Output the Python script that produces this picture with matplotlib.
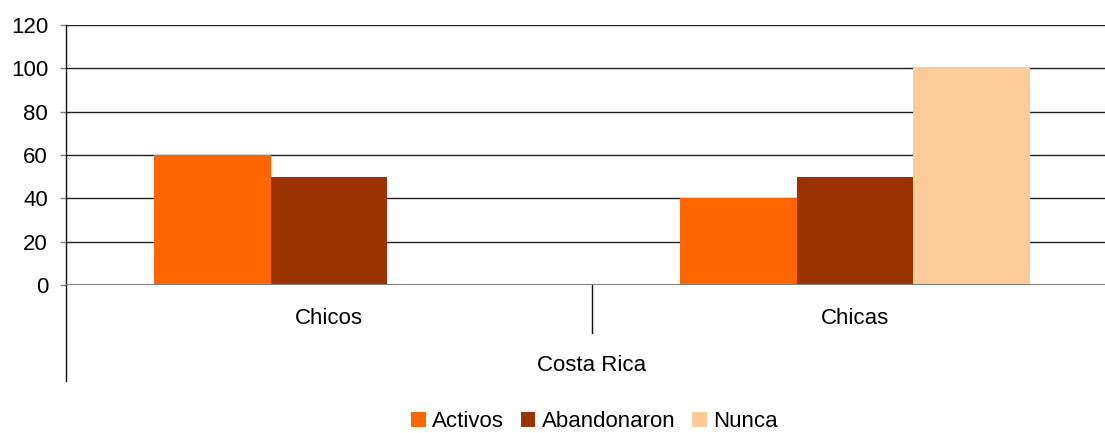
import numpy as np
import matplotlib.pyplot as plt
from matplotlib.patches import Patch

plt.rcParams['font.family'] = ['Liberation Sans', 'DejaVu Sans']

categories = ['Chicos', 'Chicas']
group_label = 'Costa Rica'
series_names = ['Activos', 'Abandonaron', 'Nunca']
activos = [60, 40]
abandonaron = [50, 50]
nunca = [0, 100]
colors = ['#FF6600', '#993300', '#FFCC99']

fig = plt.figure(figsize=(11.05, 4.33), dpi=100)
ax = fig.add_axes([66 / 1105, 1 - 285 / 433, (1118 - 66) / 1105, 260 / 433])

x = np.arange(len(categories))
w = 1 / 4.5
for i, (vals, c) in enumerate(zip([activos, abandonaron, nunca], colors)):
    ax.bar(x + (i - 1) * w, vals, width=w, color=c, zorder=3, linewidth=0)

ax.set_xlim(-0.5, 1.5)
ax.set_ylim(0, 120)
ax.set_yticks(range(0, 121, 20))
ax.yaxis.grid(True, color='#222222', linewidth=1.0, zorder=1)
ax.axhline(0, color='#808080', linewidth=1.5, zorder=4)
ax.tick_params(axis='y', labelsize=16, length=4.3, width=1, color='#808080', pad=8.6)
ax.set_xticks([])
for s in ['top', 'right', 'bottom']:
    ax.spines[s].set_visible(False)
ax.spines['left'].set_color('#111111')
ax.spines['left'].set_linewidth(1)

# category labels below the axis
for xi, lab in zip(x, categories):
    ax.text(xi, -0.127, lab, transform=ax.get_xaxis_transform(), ha='center',
            va='center', fontsize=16)
ax.text(0.5, -0.308, group_label, transform=ax.transAxes, ha='center',
        va='center', fontsize=16)
ax.plot([0.5, 0.5], [0, -0.185], transform=ax.get_xaxis_transform(),
        color='#111111', linewidth=1, clip_on=False)
ax.plot([-0.5, -0.5], [0, -0.369], transform=ax.get_xaxis_transform(),
        color='#111111', linewidth=1, clip_on=False)

handles = [Patch(facecolor=c, label=n) for c, n in zip(colors, series_names)]
fig.legend(handles=handles, loc='center', bbox_to_anchor=(0.538, 0.026), ncol=3,
           frameon=False, fontsize=16, handlelength=0.65, handleheight=0.65,
           handletextpad=0.3, columnspacing=0.75, borderpad=0.1)

fig.savefig('out.png', dpi=100)
